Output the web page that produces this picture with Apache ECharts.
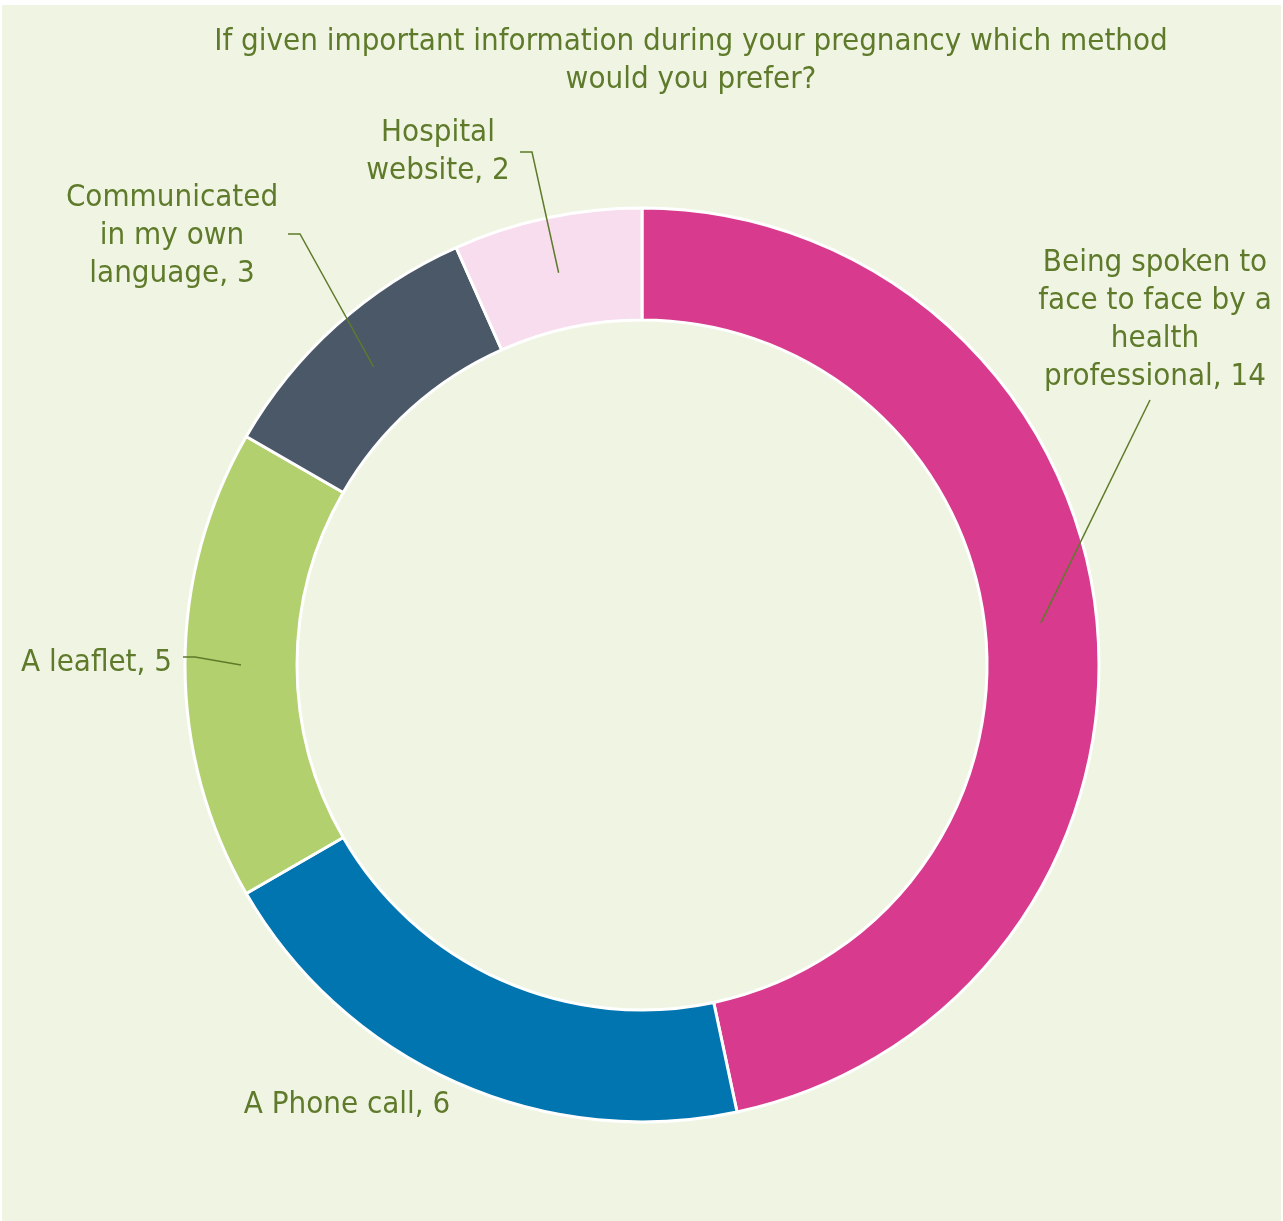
<!DOCTYPE html>
<html><head><meta charset="utf-8">
<script src="https://cdn.jsdelivr.net/npm/echarts@6/dist/echarts.min.js"></script>
<style>html,body{margin:0;padding:0;background:#fff}#c{width:1283px;height:1221px}</style>
</head><body><div id="c"></div>
<script>
const titleText = 'If given important information during your pregnancy which method\nwould you prefer?';
const categories = ['Being spoken to face to face by a health professional', 'A Phone call', 'A leaflet', 'Communicated in my own language', 'Hospital website'];
const values = [14, 6, 5, 3, 2];
const wrappedNames = ['Being spoken to\nface to face by a\nhealth\nprofessional', 'A Phone call', 'A leaflet', 'Communicated\nin my own\nlanguage', 'Hospital\nwebsite'];
const colors = ['#D83B8E', '#0075B0', '#B2D06E', '#4B5868', '#F7DDEE'];

const FONT = '"DejaVu Sans Condensed", "DejaVu Sans", sans-serif';
const TXT = '#5E7A2A';
// label placement (layout style only)
const place = [
  {x: 1155, y: 320, align: 'center', elbow: [1150, 400], end: [1150, 400]},
  {x: 347, y: 1105, align: 'center'},
  {x: 172, y: 663, align: 'right', elbow: [195, 657], end: [183, 657]},
  {x: 172, y: 236, align: 'center', elbow: [300, 234], end: [288, 234]},
  {x: 438, y: 152, align: 'center', elbow: [532, 152], end: [520, 152]}
];

const data = categories.map((n, i) => ({name: n, value: values[i], itemStyle: {color: colors[i]}}));
const chart = echarts.init(document.getElementById('c'), null, {renderer: 'canvas'});
chart.setOption({
  backgroundColor: '#fff',
  animation: false,
  graphic: [{type: 'rect', z: -10, shape: {x: 2, y: 5, width: 1279, height: 1216}, style: {fill: '#F0F5E3'}}],
  title: {
    text: titleText, left: 686, top: 18, textAlign: 'center',
    textStyle: {fontFamily: FONT, fontSize: 31, fontWeight: 'normal', color: TXT, lineHeight: 38}
  },
  series: [
    {
      type: 'pie', z: 1, center: [642, 665], radius: [345, 457], startAngle: 90, clockwise: true,
      avoidLabelOverlap: false, silent: true,
      itemStyle: {borderColor: '#fff', borderWidth: 3},
      label: {show: false}, labelLine: {show: false},
      data: data
    },
    {
      type: 'pie', z: 5, center: [642, 665], radius: [0, 401], startAngle: 90, clockwise: true,
      avoidLabelOverlap: false, silent: true,
      itemStyle: {color: 'rgba(0,0,0,0)'},
      label: {
        show: true, position: 'outside', fontFamily: FONT, fontSize: 31, color: TXT, lineHeight: 38,
        formatter: p => wrappedNames[p.dataIndex] + ', ' + p.value
      },
      labelLine: {show: true, lineStyle: {color: TXT, width: 1.5}},
      labelLayout: function (p) {
        const c = place[p.dataIndex];
        const r = {x: c.x, y: c.y, align: c.align, verticalAlign: 'middle', hideOverlap: false};
        if (c.end && p.labelLinePoints) r.labelLinePoints = [p.labelLinePoints[0], c.elbow, c.end];
        return r;
      },
      data: categories.map((n, i) => ({
        name: n, value: values[i],
        labelLine: {show: !!place[i].end}
      }))
    }
  ]
});
</script></body></html>
